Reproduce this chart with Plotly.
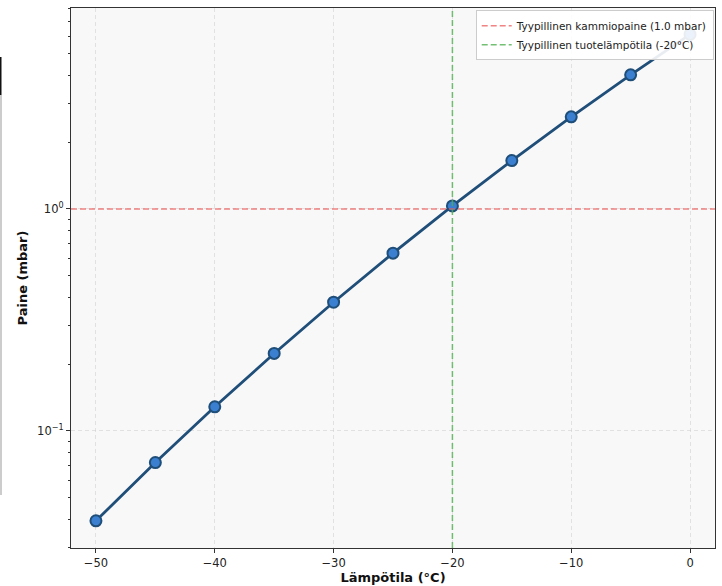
import plotly.graph_objects as go

temps = [-50, -45, -40, -35, -30, -25, -20, -15, -10, -5, 0]
pressure_mbar = [0.0394, 0.0721, 0.1285, 0.2235, 0.3802, 0.6323, 1.032, 1.652, 2.599, 4.019, 6.112]
x_ticks = [-50, -40, -30, -20, -10, 0]
x_tick_labels = ["\u221250", "\u221240", "\u221230", "\u221220", "\u221210", "0"]
y_ticks = [0.1, 1.0]
y_tick_labels = ["10<sup>\u22121</sup>", "10<sup>0</sup>"]
ref_pressure = 1.0
ref_temp = -20
legend_labels = ["Tyypillinen kammiopaine (1.0 mbar)", "Tyypillinen tuotelämpötila (-20°C)"]

y_minor = [m * 10 ** e for e in (-2, -1, 0) for m in range(2, 10)]

FONT = "DejaVu Sans"
fig = go.Figure()

fig.add_trace(go.Scatter(
    x=temps, y=pressure_mbar, mode="lines+markers",
    line=dict(color="#1f4e79", width=2.8),
    marker=dict(size=11, color="#3a7fd0", line=dict(color="#1f4e79", width=2)),
    showlegend=False,
))

xr = [-52.1, 2.1]
yr = [-1.527, 0.905]

fig.add_trace(go.Scatter(
    x=xr, y=[ref_pressure, ref_pressure], mode="lines",
    line=dict(color="rgba(235,90,90,0.75)", width=1.5, dash="6px,3px"),
    name=legend_labels[0],
))
fig.add_trace(go.Scatter(
    x=[ref_temp, ref_temp], y=[10 ** yr[0], 10 ** yr[1]], mode="lines",
    line=dict(color="rgba(80,175,80,0.8)", width=1.5, dash="6px,3px"),
    name=legend_labels[1],
))

grid_col = "rgba(205,205,205,0.55)"
fig.update_layout(
    width=722, height=586,
    margin=dict(l=71, r=7, t=8, b=38),
    paper_bgcolor="white",
    plot_bgcolor="#f8f8f8",
    font=dict(family=FONT, color="#222222", size=11),
    legend=dict(
        x=0.998, y=0.996, xanchor="right", yanchor="top",
        bgcolor="rgba(255,255,255,0.9)", bordercolor="#cccccc", borderwidth=1,
        font=dict(family=FONT, size=10.5, color="#222222"),
        itemwidth=30, tracegroupgap=0,
    ),
    xaxis=dict(
        range=xr, tickmode="array", tickvals=x_ticks, ticktext=x_tick_labels,
        showgrid=True, gridcolor=grid_col, griddash="4px,3px", gridwidth=1,
        zeroline=False, showline=True, linecolor="#333333", linewidth=1.2, mirror=True,
        ticks="outside", ticklen=4, tickcolor="#333333", automargin=False,
        tickfont=dict(family=FONT, size=11.5, color="#222222"),
        title=dict(text="<b>Lämpötila (°C)</b>", font=dict(family=FONT, size=13, color="#111111"), standoff=2),
    ),
    yaxis=dict(
        type="log", range=yr, tickmode="array", tickvals=y_ticks, ticktext=y_tick_labels,
        showgrid=True, gridcolor=grid_col, griddash="4px,3px", gridwidth=1,
        zeroline=False, showline=True, linecolor="#333333", linewidth=1.2, mirror=True,
        ticks="outside", ticklen=4, tickcolor="#333333", automargin=False,
        tickfont=dict(family=FONT, size=11.5, color="#222222"),
        minor=dict(tickmode="array", tickvals=y_minor, ticks="outside", ticklen=2, tickcolor="#333333", showgrid=False),
        title=dict(text="<b>Paine (mbar)</b>", font=dict(family=FONT, size=13, color="#111111"), standoff=6),
    ),
)

# edge artifacts seen at the far left of the reference
fig.add_shape(type="line", xref="paper", yref="paper", x0=-70.5/644, x1=-70.5/644,
              y0=(548 - 57) / 540, y1=(548 - 95) / 540,
              line=dict(color="#111111", width=2))
fig.add_shape(type="line", xref="paper", yref="paper", x0=-70/644, x1=-70/644,
              y0=(548 - 95) / 540, y1=(548 - 495) / 540,
              line=dict(color="#cccccc", width=2))

fig.write_html("out.html", config={"displayModeBar": False},
               post_script="document.body.style.margin='0';document.body.style.overflow='hidden';")
